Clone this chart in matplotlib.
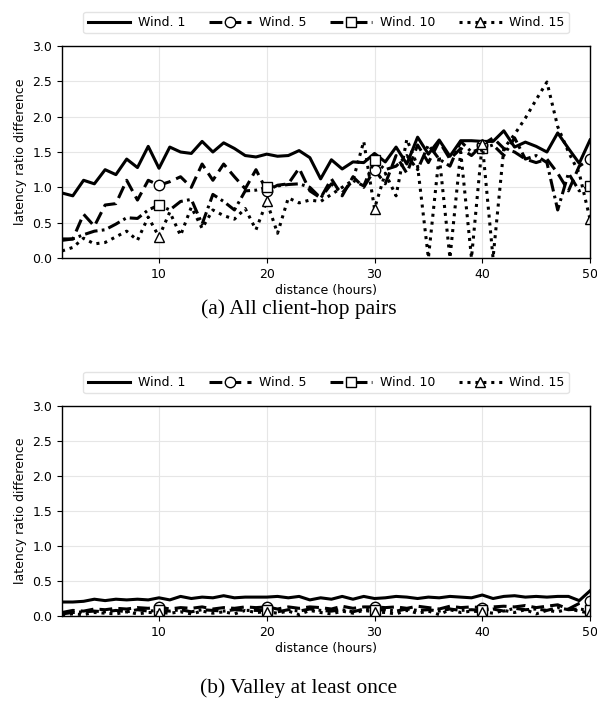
import matplotlib
matplotlib.use("Agg")
import matplotlib.pyplot as plt
import numpy as np

# distance axis (hours)
distance = list(range(1, 51))

series_names = ["Wind. 1", "Wind. 5", "Wind. 10", "Wind. 15"]

# (a) All client-hop pairs
all_w1 = [0.92, 0.88, 1.10, 1.05, 1.25, 1.18, 1.40, 1.28, 1.58, 1.27,
          1.57, 1.50, 1.48, 1.65, 1.50, 1.63, 1.55, 1.45, 1.43, 1.47,
          1.44, 1.45, 1.52, 1.42, 1.12, 1.39, 1.26, 1.36, 1.35, 1.48,
          1.36, 1.57, 1.33, 1.71, 1.47, 1.67, 1.44, 1.66, 1.66, 1.65,
          1.65, 1.80, 1.57, 1.64, 1.58, 1.50, 1.77, 1.55, 1.34, 1.67]
all_w5 = [0.27, 0.27, 0.62, 0.45, 0.75, 0.77, 1.10, 0.82, 1.10, 1.03,
          1.08, 1.15, 1.00, 1.33, 1.10, 1.33, 1.15, 0.98, 1.25, 0.95,
          1.03, 1.05, 1.27, 0.95, 0.85, 1.12, 0.88, 1.15, 1.00, 1.25,
          1.05, 1.45, 1.20, 1.60, 1.35, 1.65, 1.40, 1.55, 1.45, 1.60,
          1.70, 1.55, 1.50, 1.40, 1.35, 1.40, 1.20, 0.95, 1.30, 1.40]
all_w10 = [0.25, 0.27, 0.33, 0.38, 0.40, 0.48, 0.57, 0.56, 0.68, 0.75,
           0.68, 0.80, 0.83, 0.48, 0.90, 0.80, 0.68, 0.95, 0.96, 1.00,
           1.02, 1.04, 1.05, 1.00, 0.85, 1.05, 0.92, 1.10, 1.02, 1.38,
           1.25, 1.30, 1.45, 1.25, 1.60, 1.40, 1.30, 1.65, 1.50, 1.55,
           1.60, 1.45, 1.70, 1.40, 1.45, 1.35, 0.68, 1.20, 0.95, 1.02]
all_w15 = [0.10, 0.15, 0.28, 0.20, 0.22, 0.30, 0.38, 0.25, 0.58, 0.30,
           0.65, 0.32, 0.72, 0.42, 0.68, 0.60, 0.55, 0.70, 0.40, 0.80,
           0.35, 0.85, 0.78, 0.82, 0.80, 0.90, 1.00, 1.10, 1.65, 0.70,
           1.20, 0.88, 1.68, 1.30, 0.00, 1.45, 0.00, 1.50, 0.00, 1.62,
           0.00, 1.55, 1.75, 1.98, 2.24, 2.49, 1.86, 1.50, 1.20, 0.55]

# (b) Valley at least once
valley_w1 = [0.20, 0.20, 0.21, 0.24, 0.22, 0.24, 0.23, 0.24, 0.23, 0.26,
             0.23, 0.28, 0.25, 0.27, 0.26, 0.29, 0.26, 0.27, 0.27, 0.27,
             0.28, 0.26, 0.28, 0.23, 0.26, 0.24, 0.28, 0.24, 0.28, 0.25,
             0.26, 0.28, 0.27, 0.25, 0.27, 0.26, 0.28, 0.27, 0.26, 0.30,
             0.25, 0.28, 0.29, 0.27, 0.28, 0.27, 0.28, 0.28, 0.22, 0.36]
valley_w5 = [0.05, 0.08, 0.07, 0.10, 0.09, 0.11, 0.10, 0.12, 0.11, 0.13,
             0.10, 0.12, 0.11, 0.13, 0.10, 0.12, 0.11, 0.13, 0.12, 0.13,
             0.10, 0.13, 0.11, 0.13, 0.12, 0.10, 0.14, 0.11, 0.13, 0.13,
             0.12, 0.13, 0.11, 0.14, 0.12, 0.10, 0.14, 0.12, 0.13, 0.12,
             0.13, 0.14, 0.13, 0.15, 0.12, 0.14, 0.16, 0.10, 0.18, 0.22]
valley_w10 = [0.03, 0.05, 0.06, 0.07, 0.06, 0.08, 0.06, 0.09, 0.07, 0.08,
              0.07, 0.09, 0.06, 0.09, 0.08, 0.07, 0.09, 0.08, 0.08, 0.08,
              0.06, 0.09, 0.07, 0.10, 0.08, 0.07, 0.09, 0.06, 0.10, 0.08,
              0.09, 0.07, 0.10, 0.08, 0.09, 0.07, 0.10, 0.08, 0.09, 0.08,
              0.10, 0.07, 0.11, 0.09, 0.10, 0.08, 0.12, 0.09, 0.10, 0.08]
valley_w15 = [0.02, 0.03, 0.02, 0.05, 0.04, 0.03, 0.06, 0.03, 0.05, 0.05,
              0.04, 0.06, 0.03, 0.07, 0.04, 0.06, 0.03, 0.08, 0.05, 0.06,
              0.04, 0.07, 0.02, 0.08, 0.05, 0.03, 0.07, 0.04, 0.08, 0.06,
              0.05, 0.03, 0.08, 0.04, 0.07, 0.02, 0.09, 0.05, 0.07, 0.06,
              0.04, 0.08, 0.05, 0.09, 0.03, 0.08, 0.06, 0.10, 0.07, 0.04]

x_ticks = [10, 20, 30, 40, 50]
y_ticks = [0.0, 0.5, 1.0, 1.5, 2.0, 2.5, 3.0]

styles = [
    dict(linestyle="-", marker=None),
    dict(linestyle=(0, (4.2, 2.0)), marker="o"),
    dict(linestyle=(0, (4.2, 1.4, 0.9, 1.4)), marker="s"),
    dict(linestyle=(0, (1.0, 1.6)), marker="^"),
]

plt.rcParams["font.family"] = ["DejaVu Sans"]
plt.rcParams["font.size"] = 9

fig = plt.figure(figsize=(5.97, 7.11), dpi=100)
ax_a = fig.add_axes([0.1039, 0.6371, 0.8844, 0.2982])
ax_b = fig.add_axes([0.1039, 0.1336, 0.8844, 0.2954])

panels = [
    (ax_a, [all_w1, all_w5, all_w10, all_w15], "(a) All client-hop pairs", 0.565),
    (ax_b, [valley_w1, valley_w5, valley_w10, valley_w15], "(b) Valley at least once", 0.032),
]

for ax, data, caption, cap_y in panels:
    for name, values, st in zip(series_names, data, styles):
        line, = ax.plot(distance, values, color="black", linewidth=2.2,
                        linestyle=st["linestyle"], marker=st["marker"],
                        markevery=list(range(9, 50, 10)) if st["marker"] else None,
                        markersize=7.5, markerfacecolor="white",
                        markeredgecolor="black", markeredgewidth=1.0,
                        label=name)
        line.set_clip_path(ax.patch)
    ax.set_xlim(1, 50)
    ax.set_ylim(0, 3.0)
    ax.set_xticks(x_ticks)
    ax.set_yticks(y_ticks)
    ax.set_yticklabels([f"{v:.1f}" for v in y_ticks])
    ax.grid(True, color="#e6e6e6", linewidth=0.8)
    ax.set_axisbelow(True)
    ax.tick_params(labelsize=9, length=3.5, width=0.8)
    for sp in ax.spines.values():
        sp.set_linewidth(1.0)
    ax.set_xlabel("distance (hours)", fontsize=9, labelpad=2)
    ax.set_ylabel("latency ratio difference", fontsize=9, labelpad=4)
    ax.legend(loc="lower center", bbox_to_anchor=(0.5, 1.03), ncol=4,
              fontsize=9, handlelength=3.4, columnspacing=1.9,
              handletextpad=0.6, borderpad=0.35, frameon=True,
              edgecolor="#dddddd", fancybox=True)
    fig.text(0.5, cap_y, caption, ha="center", va="center",
             fontsize=15.5, family=["Liberation Serif"])

fig.savefig("out.png", dpi=100)
